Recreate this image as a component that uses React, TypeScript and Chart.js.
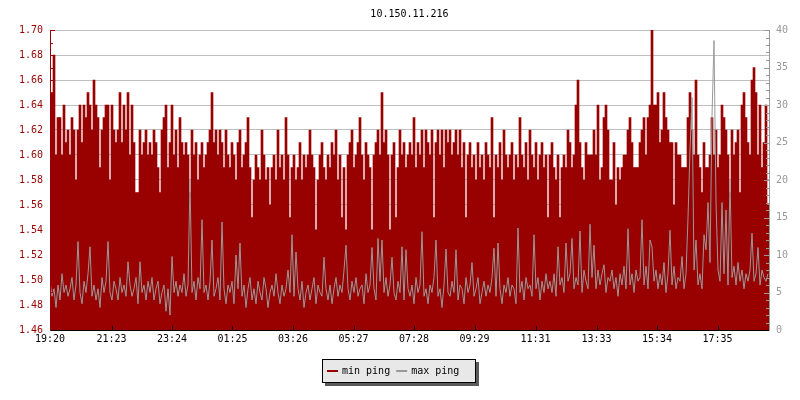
import { useEffect, useRef } from 'react';
import { Chart, registerables } from 'chart.js';

Chart.register(...registerables);

const TITLE = '10.150.11.216';
const SERIES_NAMES = ['min ping', 'max ping'];
const SERIES_COLORS = ['#990000', '#999999'];
const SAMPLE_MINUTES = 4;
const X_MAX_MINUTES = 1438;

const TIME_LABELS = ['19:20', '21:23', '23:24', '01:25', '03:26', '05:27', '07:28', '09:29', '11:31', '13:33', '15:34', '17:35'];
const TIME_TICKS = [0, 123, 244, 365, 486, 607, 728, 849, 971, 1093, 1214, 1335];

// min ping (left axis), one value every 4 minutes
const MIN_PING = [
  1.61, 1.65, 1.68, 1.60, 1.63, 1.63, 1.60, 1.64, 1.61, 1.62,
  1.60, 1.63, 1.62, 1.58, 1.62, 1.64, 1.61, 1.64, 1.63, 1.65,
  1.64, 1.62, 1.66, 1.64, 1.63, 1.59, 1.62, 1.63, 1.64, 1.64,
  1.58, 1.64, 1.62, 1.61, 1.62, 1.65, 1.61, 1.64, 1.62, 1.65,
  1.60, 1.64, 1.61, 1.57, 1.57, 1.62, 1.60, 1.61, 1.62, 1.60,
  1.61, 1.60, 1.62, 1.61, 1.59, 1.57, 1.62, 1.63, 1.64, 1.59,
  1.61, 1.64, 1.60, 1.62, 1.59, 1.63, 1.61, 1.60, 1.61, 1.60,
  1.57, 1.62, 1.60, 1.61, 1.58, 1.60, 1.61, 1.59, 1.60, 1.61,
  1.62, 1.65, 1.61, 1.62, 1.60, 1.62, 1.61, 1.59, 1.62, 1.60,
  1.59, 1.61, 1.60, 1.58, 1.61, 1.62, 1.59, 1.60, 1.61, 1.63,
  1.59, 1.55, 1.58, 1.60, 1.59, 1.58, 1.62, 1.60, 1.58, 1.59,
  1.56, 1.59, 1.60, 1.58, 1.62, 1.59, 1.60, 1.58, 1.63, 1.60,
  1.55, 1.59, 1.60, 1.58, 1.59, 1.61, 1.58, 1.60, 1.59, 1.60,
  1.62, 1.60, 1.59, 1.54, 1.58, 1.60, 1.61, 1.59, 1.58, 1.60,
  1.59, 1.61, 1.60, 1.62, 1.58, 1.60, 1.55, 1.59, 1.54, 1.60,
  1.61, 1.62, 1.59, 1.60, 1.61, 1.63, 1.60, 1.58, 1.61, 1.60,
  1.59, 1.54, 1.60, 1.61, 1.62, 1.60, 1.65, 1.61, 1.62, 1.60,
  1.54, 1.60, 1.61, 1.55, 1.59, 1.62, 1.60, 1.61, 1.59, 1.60,
  1.61, 1.60, 1.63, 1.59, 1.61, 1.60, 1.62, 1.59, 1.62, 1.61,
  1.60, 1.62, 1.55, 1.61, 1.62, 1.60, 1.62, 1.59, 1.62, 1.61,
  1.62, 1.60, 1.61, 1.62, 1.60, 1.62, 1.59, 1.61, 1.55, 1.60,
  1.61, 1.59, 1.60, 1.58, 1.61, 1.59, 1.60, 1.58, 1.61, 1.60,
  1.59, 1.63, 1.55, 1.60, 1.59, 1.61, 1.58, 1.62, 1.60, 1.59,
  1.60, 1.61, 1.58, 1.60, 1.59, 1.63, 1.60, 1.59, 1.61, 1.58,
  1.62, 1.60, 1.59, 1.61, 1.58, 1.60, 1.61, 1.59, 1.60, 1.55,
  1.60, 1.61, 1.59, 1.58, 1.60, 1.55, 1.59, 1.60, 1.59, 1.62,
  1.61, 1.59, 1.60, 1.64, 1.66, 1.61, 1.59, 1.58, 1.61, 1.60,
  1.60, 1.60, 1.62, 1.60, 1.64, 1.58, 1.59, 1.63, 1.64, 1.62,
  1.58, 1.58, 1.61, 1.56, 1.59, 1.58, 1.59, 1.60, 1.60, 1.62,
  1.63, 1.61, 1.59, 1.59, 1.59, 1.61, 1.62, 1.63, 1.60, 1.63,
  1.64, 1.70, 1.64, 1.64, 1.65, 1.61, 1.62, 1.65, 1.63, 1.62,
  1.61, 1.61, 1.56, 1.61, 1.60, 1.60, 1.59, 1.59, 1.59, 1.63,
  1.65, 1.62, 1.60, 1.66, 1.60, 1.59, 1.57, 1.61, 1.59, 1.59,
  1.60, 1.63, 1.60, 1.62, 1.59, 1.60, 1.64, 1.63, 1.62, 1.60,
  1.57, 1.62, 1.60, 1.61, 1.62, 1.57, 1.64, 1.65, 1.63, 1.61,
  1.60, 1.66, 1.67, 1.65, 1.60, 1.64, 1.59, 1.61, 1.64, 1.56,
];

// max ping (right axis), one value every 4 minutes
const MAX_PING = [
  6.5, 4.5, 5.5, 3.0, 6.0, 4.0, 7.5, 5.0, 6.0, 4.5,
  5.5, 7.0, 4.0, 6.0, 11.8, 5.0, 3.5, 6.5, 5.0, 7.5,
  11.1, 4.5, 6.0, 4.0, 5.5, 3.0, 7.0, 5.0, 6.5, 11.8,
  5.0, 4.0, 6.5, 5.5, 4.0, 7.0, 5.0, 6.0, 4.5, 9.1,
  6.0, 4.5, 5.5, 7.0, 3.5, 9.1, 5.0, 6.0, 4.0, 6.5,
  5.0, 7.0, 4.0, 5.5, 6.5, 3.5, 5.0, 6.0, 2.5, 5.5,
  2.0, 9.8, 5.0, 6.5, 4.5, 6.0, 5.0, 7.5, 4.5, 6.0,
  20.0, 5.0, 6.5, 4.0, 7.0, 5.5, 14.7, 5.0, 6.0, 4.0,
  6.5, 12.0, 4.5, 5.5, 7.0, 4.0, 14.4, 5.5, 3.5, 6.0,
  5.0, 6.5, 3.5, 10.0, 5.5, 11.6, 4.5, 6.0, 3.0, 5.5,
  7.0, 4.0, 5.5, 3.5, 6.5, 5.0, 4.0, 7.0, 5.5, 3.0,
  5.0, 6.0, 4.5, 7.5, 5.0, 3.5, 6.0, 4.5, 5.5, 8.0,
  5.0, 12.7, 4.5, 10.4, 5.5, 4.0, 6.5, 3.0, 5.0, 6.0,
  4.0, 5.5, 7.0, 3.5, 6.0, 5.0, 4.5, 9.7, 5.5, 4.0,
  6.0, 3.5, 5.5, 7.0, 4.5, 6.0, 5.0, 8.0, 11.3, 5.5,
  4.0, 6.5, 5.0, 7.0, 4.5, 5.5, 6.0, 3.5, 7.5, 5.0,
  6.0, 11.0, 5.5, 4.0, 12.2, 6.5, 12.0, 5.0, 7.0, 4.5,
  6.0, 9.7, 5.0, 4.0, 6.5, 5.0, 11.1, 4.0, 10.7, 5.5,
  4.5, 6.0, 3.5, 7.0, 5.0, 6.0, 13.1, 4.5, 5.5, 3.5,
  6.0, 5.0, 7.0, 12.0, 4.5, 5.5, 3.0, 6.0, 10.8, 5.0,
  4.5, 6.5, 5.0, 10.7, 4.0, 6.0, 5.5, 3.5, 7.0, 5.0,
  6.0, 9.0, 4.5, 5.5, 7.0, 3.5, 5.0, 6.5, 4.5, 6.0,
  5.0, 7.0, 10.9, 4.5, 11.6, 5.5, 3.5, 6.0, 5.0, 7.0,
  4.5, 6.0, 5.5, 3.5, 13.6, 5.0, 6.5, 4.0, 7.0, 5.5,
  6.0, 4.5, 12.7, 5.5, 7.0, 4.0, 6.5, 5.0, 7.5, 5.5,
  6.5, 5.0, 7.5, 4.5, 11.1, 6.0, 7.0, 5.0, 11.6, 6.5,
  7.5, 12.2, 5.5, 7.0, 6.0, 13.2, 5.0, 8.0, 6.5, 5.5,
  14.1, 7.0, 11.3, 5.5, 8.0, 6.0, 7.5, 8.7, 5.0, 7.0,
  6.5, 8.0, 5.5, 7.0, 4.5, 7.5, 6.0, 8.5, 5.5, 13.5,
  6.0, 7.5, 5.0, 8.0, 6.5, 7.0, 14.7, 6.0, 8.5, 5.5,
  12.0, 11.1, 6.5, 8.0, 5.5, 7.5, 6.0, 9.0, 5.0, 7.5,
  13.3, 6.0, 8.5, 5.5, 7.0, 6.5, 9.8, 5.5, 7.5, 15.0,
  24.0, 31.0, 8.0, 12.0, 6.0, 7.5, 5.5, 12.7, 10.7, 17.0,
  9.0, 28.5, 38.6, 17.0, 8.0, 6.5, 17.0, 7.5, 16.0, 6.0,
  20.0, 7.0, 8.5, 6.0, 9.0, 6.5, 8.0, 5.5, 7.5, 6.5,
  8.0, 12.9, 6.5, 7.5, 11.0, 6.0, 8.0, 7.0, 6.5, 7.5,
];

const SAMPLE_TIMES = MIN_PING.map((_, i) => i * SAMPLE_MINUTES);

const FONT = { family: '"DejaVu Sans Mono", monospace', size: 10, weight: 'normal' as const };

const axisDecor = {
  id: 'axisDecor',
  afterDatasetsDraw(chart: any) {
    const { ctx, chartArea, scales } = chart;
    ctx.save();
    ctx.lineWidth = 1;
    // left axis: major every 0.02, minor every 0.01
    const y = scales.y;
    ctx.strokeStyle = SERIES_COLORS[0];
    const nLeft = Math.round((y.max - y.min) / 0.01);
    for (let k = 0; k <= nLeft; k++) {
      const py = Math.round(y.getPixelForValue(y.min + k * 0.01)) + 0.5;
      const len = k % 2 === 0 ? 5 : 3;
      ctx.beginPath();
      ctx.moveTo(chartArea.left, py);
      ctx.lineTo(chartArea.left + len, py);
      ctx.stroke();
    }
    // right axis: major every 5, minor every 1
    const y1 = scales.y1;
    ctx.strokeStyle = SERIES_COLORS[1];
    for (let v = y1.min; v <= y1.max; v++) {
      const py = Math.round(y1.getPixelForValue(v)) + 0.5;
      const len = v % 5 === 0 ? 5 : 3;
      ctx.beginPath();
      ctx.moveTo(chartArea.right, py);
      ctx.lineTo(chartArea.right - len, py);
      ctx.stroke();
    }
    // bottom axis ticks pointing up
    const x = scales.x;
    ctx.strokeStyle = '#000';
    x.ticks.forEach((t: any) => {
      const px = Math.round(x.getPixelForValue(t.value)) + 0.5;
      ctx.beginPath();
      ctx.moveTo(px, chartArea.bottom);
      ctx.lineTo(px, chartArea.bottom - 4);
      ctx.stroke();
    });
    ctx.restore();
  },
};

const legendBox = {
  id: 'legendBox',
  afterDraw(chart: any) {
    const { ctx } = chart;
    const left = 322, top = 359, w = 154, h = 24;
    ctx.save();
    ctx.fillStyle = '#5a5a5a';
    ctx.fillRect(left + 3, top + 3, w, h);
    ctx.fillStyle = '#e8e8e8';
    ctx.fillRect(left, top, w, h);
    ctx.strokeStyle = '#000';
    ctx.lineWidth = 1;
    ctx.strokeRect(left + 0.5, top + 0.5, w - 1, h - 1);
    ctx.font = '10px "DejaVu Sans Mono", monospace';
    ctx.textBaseline = 'middle';
    ctx.textAlign = 'left';
    let x = left + 5;
    const cy = top + 12;
    chart.data.datasets.forEach((d: any, i: number) => {
      ctx.fillStyle = SERIES_COLORS[i];
      ctx.fillRect(x, cy - 1, 11, 2);
      x += 15;
      ctx.fillStyle = '#000';
      ctx.fillText(d.label, x, cy);
      x += ctx.measureText(d.label).width + 6;
    });
    ctx.restore();
  },
};

export default function App() {
  const ref = useRef<HTMLCanvasElement>(null);
  useEffect(() => {
    document.body.style.margin = '0';
    const canvas = ref.current;
    if (!canvas) return;
    const chart = new Chart(canvas, {
      type: 'bar',
      data: {
        labels: SAMPLE_TIMES,
        datasets: [
          {
            type: 'bar',
            label: SERIES_NAMES[0],
            data: MIN_PING,
            backgroundColor: SERIES_COLORS[0],
            borderWidth: 0,
            barPercentage: 1,
            categoryPercentage: 1,
            yAxisID: 'y',
            order: 1,
          },
          {
            type: 'line',
            label: SERIES_NAMES[1],
            data: MAX_PING,
            borderColor: SERIES_COLORS[1],
            borderWidth: 1,
            pointRadius: 0,
            tension: 0,
            fill: false,
            yAxisID: 'y1',
            order: 0,
          },
        ] as any,
      },
      options: {
        responsive: false,
        animation: false,
        events: [],
        layout: { padding: 0 },
        plugins: {
          legend: { display: false },
          tooltip: { enabled: false },
          title: {
            display: true,
            text: TITLE,
            color: '#000',
            font: FONT,
            fullSize: false,
            padding: { top: 8, bottom: 10 },
          },
        },
        scales: {
          x: {
            type: 'linear',
            min: 0,
            max: X_MAX_MINUTES,
            offset: false,
            afterBuildTicks: (s: any) => {
              s.ticks = TIME_TICKS.map((v) => ({ value: v }));
            },
            afterFit: (s: any) => {
              s.height = 70;
            },
            ticks: {
              autoSkip: false,
              maxRotation: 0,
              padding: 3,
              color: '#000',
              font: FONT,
              callback: (_v: any, i: number) => TIME_LABELS[i],
            },
            grid: { display: true, drawOnChartArea: false, drawTicks: false },
            border: { color: '#000', z: 1 },
          },
          y: {
            type: 'linear',
            position: 'left',
            min: 1.46,
            max: 1.7,
            afterFit: (s: any) => {
              s.width = 50;
            },
            ticks: {
              stepSize: 0.02,
              color: SERIES_COLORS[0],
              font: FONT,
              padding: 7,
              callback: (v: any) => Number(v).toFixed(2),
            },
            grid: { color: '#c0c0c0', drawTicks: false, lineWidth: 1 },
            border: { color: SERIES_COLORS[0], z: 1 },
          },
          y1: {
            type: 'linear',
            position: 'right',
            min: 0,
            max: 40,
            afterFit: (s: any) => {
              s.width = 31;
            },
            ticks: {
              stepSize: 5,
              color: SERIES_COLORS[1],
              font: FONT,
              padding: 7,
            },
            grid: { drawOnChartArea: false, drawTicks: false },
            border: { color: SERIES_COLORS[1], z: 1 },
          },
        },
      } as any,
      plugins: [axisDecor, legendBox],
    });
    return () => chart.destroy();
  }, []);
  return <canvas ref={ref} width={800} height={400} style={{ display: 'block' }} />;
}
